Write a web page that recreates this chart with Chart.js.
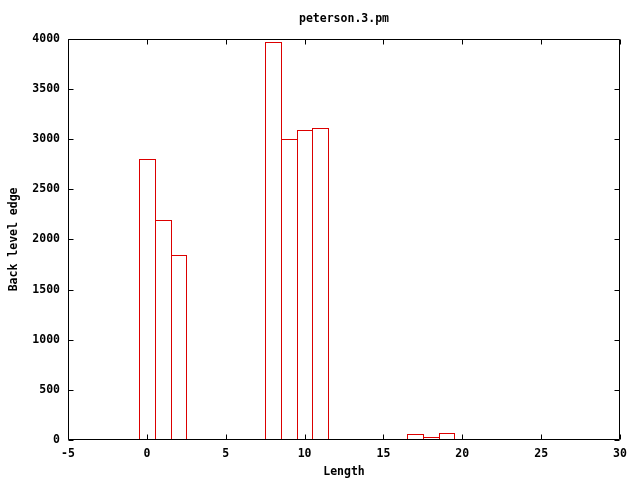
<!DOCTYPE html>
<html>
<head>
<meta charset="utf-8">
<script src="https://cdn.jsdelivr.net/npm/chart.js@4"></script>
<style>
  html, body { margin: 0; padding: 0; background: #fff; }
  canvas { display: block; }
</style>
</head>
<body>
<canvas id="myChart" width="640" height="480"></canvas>
<script>
// values
let lengths = [0, 1, 2, 8, 9, 10, 11, 17, 18, 19];
let backLevelEdge = [2800, 2190, 1840, 3965, 3000, 3090, 3110, 60, 30, 70];
let xRange = [-5, 30];
let yRange = [0, 4000];

let barColor = 'rgb(220, 0, 0)';
let monoFont = { family: "'DejaVu Sans Mono', 'Liberation Mono', monospace", size: 11.5, weight: 'bold' };

// outline the bars like gnuplot boxes: adjacent boxes share one 1px edge
let boxOutlinePlugin = {
  id: 'boxOutline',
  afterDatasetsDraw(chart) {
    let ctx = chart.ctx;
    ctx.save();
    ctx.strokeStyle = barColor;
    ctx.lineWidth = 1;
    chart.getDatasetMeta(0).data.forEach(bar => {
      let p = bar.getProps(['x', 'y', 'base', 'width'], true);
      let l = Math.round(p.x - p.width / 2) + 0.5;
      let r = Math.round(p.x + p.width / 2) + 0.5;
      let t = Math.round(p.y) + 0.5;
      let b = Math.round(p.base) - 0.5; // sits under the x axis line
      ctx.strokeRect(l, t, r - l, b - t);
    });
    ctx.restore();
  }
};

// gnuplot style frame with inward ticks on all four sides
let framePlugin = {
  id: 'frame',
  afterDraw(chart) {
    let ctx = chart.ctx;
    let a = chart.chartArea;
    let l = Math.round(a.left) + 0.5, r = Math.round(a.right) - 0.5;
    let t = Math.round(a.top) + 0.5, b = Math.round(a.bottom) - 0.5;
    let tick = 5;
    ctx.save();
    ctx.strokeStyle = '#000';
    ctx.lineWidth = 1;
    ctx.beginPath();
    ctx.rect(l, t, r - l, b - t);
    chart.scales.x.ticks.forEach(tk => {
      let px = Math.round(chart.scales.x.getPixelForValue(tk.value)) + 0.5;
      ctx.moveTo(px, b); ctx.lineTo(px, b - tick);
      ctx.moveTo(px, t); ctx.lineTo(px, t + tick);
    });
    chart.scales.y.ticks.forEach(tk => {
      let py = Math.round(chart.scales.y.getPixelForValue(tk.value)) + 0.5;
      ctx.moveTo(l, py); ctx.lineTo(l + tick, py);
      ctx.moveTo(r, py); ctx.lineTo(r - tick, py);
    });
    ctx.stroke();
    ctx.restore();
  }
};

let ctx = document.getElementById('myChart').getContext('2d');
let myChart = new Chart(ctx, {
  type: 'bar',
  data: {
    datasets: [{
      label: 'Back level edge',
      data: lengths.map((x, i) => ({ x: x, y: backLevelEdge[i] })),
      backgroundColor: 'rgba(0,0,0,0)',
      borderColor: barColor,
      borderWidth: 0,
      barPercentage: 1,
      categoryPercentage: 1
    }]
  },
  options: {
    responsive: false,
    animation: false,
    layout: { padding: { left: 0, right: 20, top: 0, bottom: 0 } },
    plugins: {
      legend: { display: false },
      tooltip: { enabled: false },
      title: {
        display: true,
        text: 'peterson.3.pm',
        fullSize: false,
        color: '#000',
        font: monoFont,
        padding: { top: 12, bottom: 13 }
      }
    },
    scales: {
      x: {
        type: 'linear',
        min: xRange[0],
        max: xRange[1],
        offset: false,
        grid: { display: false, offset: false, drawTicks: false },
        border: { display: false },
        ticks: { stepSize: 5, color: '#000', font: monoFont, padding: 7, maxRotation: 0, callback: v => String(v) },
        title: { display: true, text: 'Length', color: '#000', font: monoFont, padding: { top: 0, bottom: 1 } },
        afterFit(scale) { scale.height = 40; }
      },
      y: {
        min: yRange[0],
        max: yRange[1],
        grid: { display: false, drawTicks: false },
        border: { display: false },
        ticks: { stepSize: 500, color: '#000', font: monoFont, padding: 8, callback: v => String(v) },
        title: { display: true, text: 'Back level edge', color: '#000', font: monoFont, padding: { top: 7, bottom: 0 } },
        afterFit(scale) { scale.width = 68; }
      }
    }
  },
  plugins: [boxOutlinePlugin, framePlugin]
});
</script>
</body>
</html>
